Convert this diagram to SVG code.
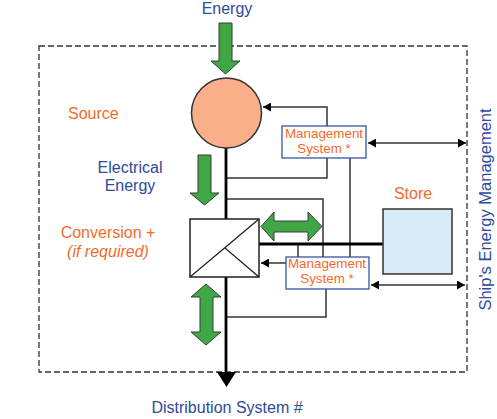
<svg xmlns="http://www.w3.org/2000/svg" width="497" height="419" viewBox="0 0 497 419">
<defs>
<style>
.t{font-family:"Liberation Sans",Arial,sans-serif;font-size:16px}
.o{fill:#f26b2b}
.b{fill:#2e4a9a}
.m{font-family:"Liberation Sans",Arial,sans-serif;font-size:13.4px;fill:#f26b2b;text-anchor:middle}
.ln{fill:none;stroke:#333;stroke-width:1.5}
.grn{fill:#3fa845;stroke:#3a3a3a;stroke-width:1}
.mb{fill:#fff;stroke:#3953a4;stroke-width:1.3}
</style>
<marker id="ah" markerWidth="8" markerHeight="9" refX="8" refY="4.5" orient="auto-start-reverse" markerUnits="userSpaceOnUse">
<path d="M0,0 L8,4.5 L0,9 Z" fill="#000"/>
</marker>
</defs>
<rect x="39" y="46" width="428" height="326" fill="none" stroke="#333" stroke-width="1.3" stroke-dasharray="6 3"/>
<g id="connectors">
<path class="ln" d="M327,126 V107 H263" marker-end="url(#ah)"/>
<path class="ln" d="M327,158 V178 H227"/>
<path class="ln" d="M350,158 V257"/>
<path class="ln" d="M227,199 H323 V257"/>
<path class="ln" d="M298,244 V257"/>
<path class="ln" d="M286,263 H261" marker-end="url(#ah)"/>
<path class="ln" d="M326,289 V317 H227"/>
<path class="ln" d="M368,143 H466" marker-start="url(#ah)" marker-end="url(#ah)"/>
<path class="ln" d="M371,285 H465" marker-start="url(#ah)" marker-end="url(#ah)"/>
<path d="M259,244 H383" stroke="#000" stroke-width="3" fill="none"/>
<path d="M226,148 V219 M226,277 V373" stroke="#000" stroke-width="2.8" fill="none"/>
<polygon points="217,372 236,372 226.5,387" fill="#000"/>
</g>
<g id="energy-in">
<polygon class="grn" points="219,23 232,23 232,61 240,61 225.5,74 211,61 219,61"/>
<text class="t b" x="227" y="14" text-anchor="middle">Energy</text>
</g>
<g id="source">
<circle cx="226.5" cy="113" r="35" fill="#f9b08a" stroke="#333" stroke-width="1.5"/>
<text class="t o" x="68" y="119">Source</text>
</g>
<g id="electrical-energy">
<polygon class="grn" points="198,155 211,155 211,193 219,193 204.5,205 190,193 198,193"/>
<text class="t b" x="130" y="173" text-anchor="middle">Electrical</text>
<text class="t b" x="130" y="191" text-anchor="middle">Energy</text>
</g>
<g id="conversion">
<rect x="190" y="219" width="69" height="58" fill="#fff" stroke="#222" stroke-width="1.5"/>
<path d="M190,277 L259,219 M225,248 L259,277" stroke="#222" stroke-width="1.3" fill="none"/>
<text class="t o" x="108" y="238" text-anchor="middle">Conversion +</text>
<text class="t o" x="108" y="257" text-anchor="middle" font-style="italic">(if required)</text>
</g>
<g id="store-flow">
<polygon class="grn" points="261,226.5 274,212 274,221 308,221 308,212 322,226.5 308,241 308,232 274,232 274,241"/>
</g>
<g id="dist-flow">
<polygon class="grn" points="206,284 221,297 213,297 213,332 221,332 206,345 191,332 200,332 200,297 191,297"/>
</g>
<g id="store">
<rect x="383" y="209" width="69" height="65" fill="#d9eaf7" stroke="#333" stroke-width="1.5"/>
<text class="t o" x="413" y="199" text-anchor="middle">Store</text>
</g>
<g id="mgmt1">
<rect class="mb" x="282" y="126" width="84" height="32"/>
<text class="m" x="324" y="138">Management</text>
<text class="m" x="324" y="153">System *</text>
</g>
<g id="mgmt2">
<rect class="mb" x="286" y="257" width="83" height="32"/>
<text class="m" x="327" y="268">Management</text>
<text class="m" x="327" y="283">System *</text>
</g>
<g id="labels">
<text class="t b" x="227" y="413" text-anchor="middle">Distribution System #</text>
<text class="t b" transform="translate(491,209.5) rotate(-90)" text-anchor="middle" style="font-size:16.5px">Ship's Energy Management</text>
</g>
</svg>
